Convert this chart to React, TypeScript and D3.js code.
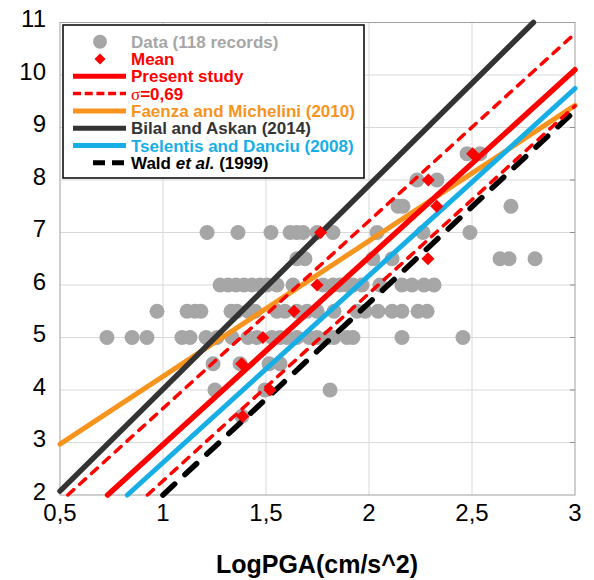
import React from "react";
import * as d3 from "d3";

// ---------- data ----------
const xTicks = [0.5, 1, 1.5, 2, 2.5, 3];
const xTickLabels = ["0,5", "1", "1,5", "2", "2,5", "3"];
const yTicks = [2, 3, 4, 5, 6, 7, 8, 9, 10, 11];

// observed records: [LogPGA, intensity]
const dataX = [
  2.476, 2.539,
  2.233, 2.33,
  2.141, 2.165, 2.689,
  1.214, 1.364, 1.524, 1.617, 1.65, 1.68, 1.748, 1.825, 2.039, 2.262, 2.49,
  1.65, 1.689, 2.019, 2.112, 2.636, 2.68, 2.806,
  1.277, 1.316, 1.354, 1.393, 1.432, 1.471, 1.505, 1.553, 1.631, 1.777, 1.825, 1.859, 1.893, 1.922, 1.966, 2.053, 2.16, 2.209, 2.267, 2.316,
  0.971, 1.117, 1.155, 1.184, 1.33, 1.359, 1.413, 1.447, 1.553, 1.592, 1.65, 1.699, 1.748, 1.83, 1.942, 1.981, 2.044, 2.112, 2.16, 2.238, 2.282,
  0.728, 0.85, 0.922, 1.092, 1.131, 1.209, 1.262, 1.335, 1.413, 1.456, 1.529, 1.568, 1.602, 1.65, 1.709, 1.748, 1.801, 1.83, 1.893, 1.922, 2.16, 2.456,
  1.243, 1.374, 1.515, 1.568,
  1.252, 1.495, 1.811,
  1.383,
];
const dataY = [
  8.5, 8.5,
  8, 8,
  7.5, 7.5, 7.5,
  7, 7, 7, 7, 7, 7, 7, 7, 7, 7, 7,
  6.5, 6.5, 6.5, 6.5, 6.5, 6.5, 6.5,
  6, 6, 6, 6, 6, 6, 6, 6, 6, 6, 6, 6, 6, 6, 6, 6, 6, 6, 6, 6,
  5.5, 5.5, 5.5, 5.5, 5.5, 5.5, 5.5, 5.5, 5.5, 5.5, 5.5, 5.5, 5.5, 5.5, 5.5, 5.5, 5.5, 5.5, 5.5, 5.5, 5.5,
  5, 5, 5, 5, 5, 5, 5, 5, 5, 5, 5, 5, 5, 5, 5, 5, 5, 5, 5, 5, 5, 5,
  4.5, 4.5, 4.5, 4.5,
  4, 4, 4,
  3.5,
];

// mean values per intensity
const meanX = [1.387, 1.519, 1.382, 1.485, 1.636, 1.748, 2.286, 1.765, 2.329, 2.288, 2.503];
const meanY = [3.5, 4, 4.5, 5, 5.5, 6, 6.5, 7, 7.5, 8, 8.5];

// relations: I = slope * LogPGA + intercept
const modelNames = ["Faenza and Michelini (2010)", "Bilal and Askan (2014)", "Tselentis and Danciu (2008)", "Present study", "Wald et al. (1999)"];
const modelSlopes = [2.58, 3.884, 3.563, 3.57, 3.66];
const modelIntercepts = [1.68, 0.132, -0.946, -0.61, -1.66];
const sigma = 0.69;

// ---------- layout ----------
const W = 594;
const H = 580;
const L = 60, R = 575, T = 22.5, B = 495;

const FONT = "'Liberation Sans', Arial, sans-serif";
const GRAY = "#a6a6a6";
const RED = "#ff0000";
const ORANGE = "#f7941d";
const DARK = "#333333";
const BLUE = "#17aee6";

export default function App() {
  const x = d3.scaleLinear().domain([0.5, 3]).range([L, R]);
  const y = d3.scaleLinear().domain([2, 11]).range([B, T]);

  const lineFor = (slope: number, intercept: number) => {
    const x0 = Math.max(0.5, (2 - intercept) / slope);
    const x1 = Math.min(3, (11 - intercept) / slope);
    const gen = d3.line<number>().x((d) => x(d)).y((d) => y(slope * d + intercept));
    return gen([x0, x1]) || "";
  };

  const diamond = (cx: number, cy: number, r: number) =>
    `M${cx},${cy - r}L${cx + r},${cy}L${cx},${cy + r}L${cx - r},${cy}Z`;

  const rowY = (i: number) => 41.7 + i * 17.3;
  const lx0 = 73, lx1 = 126, tx = 131;

  return (
    <svg width={W} height={H} style={{ display: "block", position: "absolute", left: 0, top: 0 }}>
      <rect x={0} y={0} width={W} height={H} fill="#fff" />
      {/* grid */}
      {xTicks.slice(1, -1).map((t) => (
        <line key={"gx" + t} x1={x(t)} x2={x(t)} y1={T} y2={B} stroke="#d9d9d9" strokeWidth={1} />
      ))}
      {yTicks.slice(1, -1).map((t) => (
        <line key={"gy" + t} x1={L} x2={R} y1={y(t)} y2={y(t)} stroke="#d9d9d9" strokeWidth={1} />
      ))}
      {yTicks.slice(1, -1).map((t) => (
        <line key={"rt" + t} x1={R - 5} x2={R} y1={y(t)} y2={y(t)} stroke="#8c8c8c" strokeWidth={1} />
      ))}
      <rect x={L} y={T} width={R - L} height={B - T} fill="none" stroke="#a0a0a0" strokeWidth={1} />

      {/* data */}
      {dataX.map((v, i) => (
        <circle key={"p" + i} cx={x(v)} cy={y(dataY[i])} r={7.5} fill={GRAY} />
      ))}

      {/* relations */}
      <path d={lineFor(modelSlopes[0], modelIntercepts[0])} stroke={ORANGE} strokeWidth={5} fill="none" strokeLinecap="round" />
      <path d={lineFor(modelSlopes[1], modelIntercepts[1])} stroke={DARK} strokeWidth={5.5} fill="none" strokeLinecap="round" />
      <path d={lineFor(modelSlopes[2], modelIntercepts[2])} stroke={BLUE} strokeWidth={5} fill="none" strokeLinecap="round" />
      <path d={lineFor(modelSlopes[4], modelIntercepts[4])} stroke="#000" strokeWidth={5.5} fill="none" strokeDasharray="16,14" strokeLinecap="round" />
      <path d={lineFor(modelSlopes[3], modelIntercepts[3] + sigma)} stroke={RED} strokeWidth={3.5} fill="none" strokeDasharray="8,8" strokeLinecap="round" />
      <path d={lineFor(modelSlopes[3], modelIntercepts[3] - sigma)} stroke={RED} strokeWidth={3.5} fill="none" strokeDasharray="8,8" strokeLinecap="round" />
      <path d={lineFor(modelSlopes[3], modelIntercepts[3])} stroke={RED} strokeWidth={5.5} fill="none" strokeLinecap="round" />

      {meanX.map((v, i) => (
        <path key={"m" + i} d={diamond(x(v), y(meanY[i]), 6.5)} fill={RED} />
      ))}

      {/* axis labels */}
      {yTicks.map((t) => (
        <text key={"yl" + t} x={46} y={y(t) + 4.5} textAnchor="end" fontFamily={FONT} fontSize={24} fill="#000">
          {t}
        </text>
      ))}
      {xTicks.map((t, i) => (
        <text key={"xl" + t} x={x(t)} y={521} textAnchor="middle" fontFamily={FONT} fontSize={24} fill="#000">
          {xTickLabels[i]}
        </text>
      ))}
      <text x={317} y={573} textAnchor="middle" fontFamily={FONT} fontSize={25} fontWeight="bold" fill="#000">
        LogPGA(cm/s^2)
      </text>

      {/* legend */}
      <rect x={63} y={25} width={301} height={153} fill="#fff" stroke="#000" strokeWidth={1.5} />
      <circle cx={100} cy={rowY(0)} r={7} fill={GRAY} />
      <path d={diamond(100, rowY(1), 5.5)} fill={RED} />
      <line x1={lx0} x2={lx1} y1={rowY(2)} y2={rowY(2)} stroke={RED} strokeWidth={5} />
      <line x1={lx0} x2={lx1} y1={rowY(3)} y2={rowY(3)} stroke={RED} strokeWidth={3.5} strokeDasharray="8,3.7" />
      <line x1={lx0} x2={lx1} y1={rowY(4)} y2={rowY(4)} stroke={ORANGE} strokeWidth={5} />
      <line x1={lx0} x2={lx1} y1={rowY(5)} y2={rowY(5)} stroke={DARK} strokeWidth={5} />
      <line x1={lx0} x2={lx1} y1={rowY(6)} y2={rowY(6)} stroke={BLUE} strokeWidth={5} />
      <line x1={93} x2={124} y1={rowY(7)} y2={rowY(7)} stroke="#000" strokeWidth={5} strokeDasharray="12,7" />
      <g fontFamily={FONT} fontSize={17} fontWeight="bold">
        <text x={tx} y={rowY(0) + 6} fill={GRAY}>Data (118 records)</text>
        <text x={tx} y={rowY(1) + 6} fill={RED}>Mean</text>
        <text x={tx} y={rowY(2) + 6} fill={RED}>{modelNames[3]}</text>
        <text x={tx} y={rowY(3) + 6} fill={RED}>
          <tspan fontFamily="'Liberation Serif', serif" fontWeight="normal" fontSize={17}>σ</tspan>=0,69
        </text>
        <text x={tx} y={rowY(4) + 6} fill={ORANGE}>{modelNames[0]}</text>
        <text x={tx} y={rowY(5) + 6} fill={DARK}>{modelNames[1]}</text>
        <text x={tx} y={rowY(6) + 6} fill={BLUE}>{modelNames[2]}</text>
        <text x={tx} y={rowY(7) + 6} fill="#000">
          Wald <tspan fontStyle="italic">et al.</tspan> (1999)
        </text>
      </g>
    </svg>
  );
}
